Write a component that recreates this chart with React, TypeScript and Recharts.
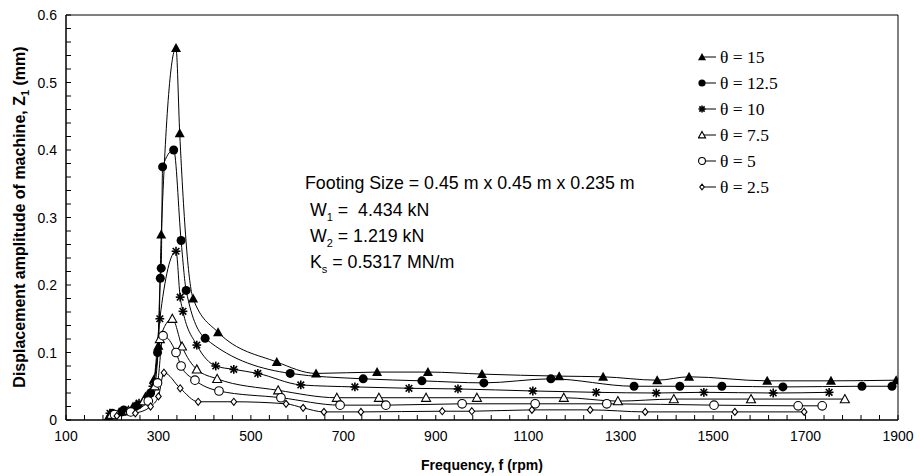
import React from "react";
import { LineChart, Line, XAxis, YAxis, Legend, ReferenceArea } from "recharts";

// frequency (rpm) and displacement amplitude (mm)
const f15 = [192, 215, 245, 272, 290, 300, 306, 338, 346, 375, 429, 556, 641, 773, 883, 1000, 1167, 1262, 1379, 1448, 1617, 1755, 1896];
const z15 = [0.005, 0.012, 0.02, 0.035, 0.06, 0.11, 0.275, 0.551, 0.425, 0.18, 0.13, 0.086, 0.069, 0.071, 0.071, 0.068, 0.065, 0.064, 0.059, 0.064, 0.058, 0.058, 0.059];

const f125 = [200, 225, 255, 283, 298, 304, 306, 309, 333, 349, 360, 401, 585, 743, 870, 1004, 1149, 1329, 1428, 1519, 1651, 1822, 1887];
const z125 = [0.01, 0.015, 0.022, 0.04, 0.1, 0.21, 0.225, 0.375, 0.4, 0.266, 0.192, 0.121, 0.069, 0.061, 0.058, 0.055, 0.061, 0.05, 0.05, 0.05, 0.049, 0.05, 0.05];

const f10 = [195, 222, 258, 288, 303, 338, 347, 353, 383, 424, 463, 515, 608, 725, 842, 948, 1110, 1247, 1377, 1480, 1630, 1751];
const z10 = [0.01, 0.012, 0.025, 0.05, 0.15, 0.25, 0.182, 0.161, 0.111, 0.08, 0.075, 0.069, 0.052, 0.049, 0.047, 0.046, 0.043, 0.041, 0.04, 0.041, 0.04, 0.041];

const f75 = [198, 235, 268, 292, 303, 330, 351, 383, 427, 559, 686, 777, 879, 989, 1177, 1294, 1415, 1582, 1785];
const z75 = [0.008, 0.014, 0.028, 0.05, 0.12, 0.15, 0.109, 0.075, 0.061, 0.044, 0.033, 0.033, 0.033, 0.033, 0.033, 0.028, 0.031, 0.031, 0.031];

const f5 = [205, 240, 278, 298, 310, 338, 349, 379, 431, 565, 693, 792, 957, 1115, 1270, 1502, 1684, 1736];
const z5 = [0.008, 0.012, 0.028, 0.055, 0.125, 0.1, 0.08, 0.059, 0.043, 0.033, 0.022, 0.022, 0.024, 0.024, 0.024, 0.022, 0.021, 0.021];

const f25 = [210, 250, 283, 300, 312, 347, 386, 463, 576, 613, 658, 738, 914, 978, 1108, 1234, 1353, 1547, 1697];
const z25 = [0.006, 0.01, 0.02, 0.035, 0.07, 0.047, 0.027, 0.027, 0.024, 0.018, 0.012, 0.012, 0.013, 0.013, 0.015, 0.015, 0.012, 0.012, 0.012];

const xTicks = Array.from({ length: 46 }, (_, i) => 100 + i * 40);
const yTicks = Array.from({ length: 31 }, (_, i) => i / 50);

const zip = (f: number[], z: number[]) => f.map((v, i) => ({ f: v, z: z[i] }));

const series = [
  { name: "θ = 15", kind: "tri", data: zip(f15, z15) },
  { name: "θ = 12.5", kind: "dot", data: zip(f125, z125) },
  { name: "θ = 10", kind: "star", data: zip(f10, z10) },
  { name: "θ = 7.5", kind: "otri", data: zip(f75, z75) },
  { name: "θ = 5", kind: "ocirc", data: zip(f5, z5) },
  { name: "θ = 2.5", kind: "diam", data: zip(f25, z25) },
];

const Marker = ({ kind, cx, cy, s = 1 }: { kind: string; cx: number; cy: number; s?: number }) => {
  if (kind === "tri") {
    const r = 5 * s;
    return <polygon points={`${cx},${cy - r} ${cx + r},${cy + r * 0.8} ${cx - r},${cy + r * 0.8}`} fill="#000" />;
  }
  if (kind === "otri") {
    const r = 4.5 * s;
    return <polygon points={`${cx},${cy - r} ${cx + r},${cy + r * 0.8} ${cx - r},${cy + r * 0.8}`} fill="#fff" stroke="#000" strokeWidth={1.1} />;
  }
  if (kind === "dot") return <circle cx={cx} cy={cy} r={4.5 * s} fill="#000" />;
  if (kind === "ocirc") return <circle cx={cx} cy={cy} r={4.3 * s} fill="#fff" stroke="#000" strokeWidth={1.1} />;
  if (kind === "diam") {
    const r = 3.5 * s;
    return <polygon points={`${cx},${cy - r} ${cx + r * 0.8},${cy} ${cx},${cy + r} ${cx - r * 0.8},${cy}`} fill="#fff" stroke="#000" strokeWidth={1.1} />;
  }
  const r = 4.4 * s;
  const d = r * 0.75;
  return (
    <g stroke="#000" strokeWidth={1.6}>
      <line x1={cx - r} y1={cy} x2={cx + r} y2={cy} />
      <line x1={cx - d} y1={cy - d} x2={cx + d} y2={cy + d} />
      <line x1={cx - d} y1={cy + d} x2={cx + d} y2={cy - d} />
      <line x1={cx} y1={cy - r} x2={cx} y2={cy + r} />
    </g>
  );
};

const XTick = (props: any) => {
  const { x, y, payload } = props;
  const v = payload.value;
  const major = (v - 100) % 200 === 0;
  return (
    <g>
      <line x1={x} y1={y} x2={x} y2={y - 5} stroke="#000" />
      {major && (
        <text x={x} y={y + 21} textAnchor="middle" fontSize={14} fontFamily="Liberation Sans, Arial" fill="#000">
          {v}
        </text>
      )}
    </g>
  );
};

const YTick = (props: any) => {
  const { x, y, payload } = props;
  const v = payload.value;
  const major = Math.round(v * 100) % 10 === 0;
  return (
    <g>
      <line x1={x} y1={y} x2={x + 5} y2={y} stroke="#000" />
      {major && (
        <text x={x - 9} y={y + 5} textAnchor="end" fontSize={14} fontFamily="Liberation Sans, Arial" fill="#000">
          {Math.round(v * 10) / 10}
        </text>
      )}
    </g>
  );
};

const renderLegend = () => (
  <div style={{ fontFamily: "Liberation Serif, Times New Roman", fontSize: 17.5, color: "#000" }}>
    {series.map((s) => (
      <div key={s.name} style={{ height: 26, display: "flex", alignItems: "center" }}>
        <svg width={22} height={16}>
          <line x1={4} y1={8} x2={18} y2={8} stroke="#000" />
          <Marker kind={s.kind} cx={4} cy={8} s={0.8} />
        </svg>
        <span style={{ whiteSpace: "pre" }}>{s.name}</span>
      </div>
    ))}
  </div>
);

const noteStyle: React.CSSProperties = {
  position: "absolute",
  left: 305,
  fontFamily: "Liberation Sans, Arial",
  fontSize: 17.8,
  whiteSpace: "pre",
  color: "#000",
  lineHeight: "20px",
};

export default function App() {
  return (
    <div style={{ position: "absolute", left: 0, top: 0, width: 920, height: 476, background: "#fff" }}>
      <LineChart width={920} height={476} margin={{ top: 15, right: 22, left: 0, bottom: 0 }}>
        <XAxis
          dataKey="f"
          type="number"
          domain={[100, 1900]}
          ticks={xTicks}
          interval={0}
          tick={<XTick />}
          tickSize={0}
          tickMargin={0}
          tickLine={false}
          height={56}
          stroke="#000"
          allowDataOverflow
        />
        <YAxis
          type="number"
          domain={[0, 0.6]}
          ticks={yTicks}
          interval={0}
          tick={<YTick />}
          tickSize={0}
          tickMargin={0}
          tickLine={false}
          width={66}
          stroke="#000"
          allowDataOverflow
        />
        <ReferenceArea x1={100} x2={1900} y1={0} y2={0.6} fill="none" stroke="#000" strokeWidth={1} ifOverflow="visible" />
        {series.map((s) => (
          <Line
            key={s.name}
            data={s.data}
            dataKey="z"
            name={s.name}
            type="monotone"
            stroke="#000"
            strokeWidth={1}
            isAnimationActive={false}
            activeDot={false}
            dot={(p: any) => <Marker key={p.index} kind={s.kind} cx={p.cx} cy={p.cy} />}
          />
        ))}
        <Legend
          layout="vertical"
          align="center"
          verticalAlign="middle"
          content={renderLegend}
          wrapperStyle={{ left: 698, top: 44, width: 160 }}
        />
      </LineChart>

      <div style={{ ...noteStyle, top: 173 }}>Footing Size = 0.45 m x 0.45 m x 0.235 m</div>
      <div style={{ ...noteStyle, top: 200 }}>
        {" W"}
        <sub style={{ fontSize: 11 }}>1</sub>
        {" =  4.434 kN"}
      </div>
      <div style={{ ...noteStyle, top: 226 }}>
        {" W"}
        <sub style={{ fontSize: 11 }}>2</sub>
        {" = 1.219 kN"}
      </div>
      <div style={{ ...noteStyle, top: 252 }}>
        {" K"}
        <sub style={{ fontSize: 11 }}>s</sub>
        {" = 0.5317 MN/m"}
      </div>

      <div
        style={{
          position: "absolute",
          left: 21,
          top: 217,
          transform: "translate(-50%, -50%) rotate(-90deg)",
          whiteSpace: "nowrap",
          fontFamily: "Liberation Sans, Arial",
          fontWeight: "bold",
          fontSize: 16,
          color: "#000",
        }}
      >
        Displacement amplitude of machine, Z<sub style={{ fontSize: 11 }}>1</sub> (mm)
      </div>
      <div
        style={{
          position: "absolute",
          left: 482,
          top: 465,
          transform: "translate(-50%, -50%)",
          whiteSpace: "nowrap",
          fontFamily: "Liberation Sans, Arial",
          fontWeight: "bold",
          fontSize: 14,
          color: "#000",
        }}
      >
        Frequency, f (rpm)
      </div>
    </div>
  );
}
